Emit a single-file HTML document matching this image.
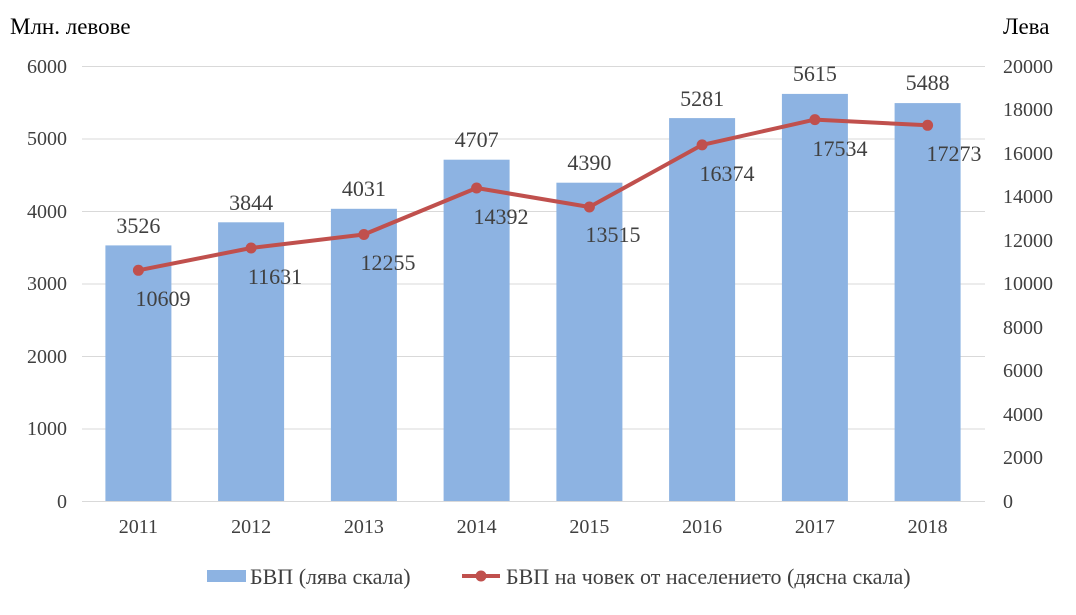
<!DOCTYPE html>
<html><head><meta charset="utf-8"><style>
body{margin:0;background:#fff}
svg text{font-family:"Liberation Serif","DejaVu Serif",serif;fill:#404040}
</style></head><body>
<svg width="1076" height="610" xmlns="http://www.w3.org/2000/svg">
<text x="10" y="34" font-size="23" style="fill:#000">Млн. левове</text>
<text x="1003" y="34" font-size="23" style="fill:#000">Лева</text>
<g stroke="#d9d9d9" stroke-width="1">
<line x1="82" x2="985" y1="66.5" y2="66.5"/><line x1="82" x2="985" y1="139" y2="139"/>
<line x1="82" x2="985" y1="211.5" y2="211.5"/><line x1="82" x2="985" y1="284" y2="284"/>
<line x1="82" x2="985" y1="356.5" y2="356.5"/><line x1="82" x2="985" y1="429" y2="429"/>
<line x1="82" x2="985" y1="501.5" y2="501.5"/>
</g>
<g font-size="20" text-anchor="end">
<text x="67" y="508">0</text><text x="67" y="435">1000</text><text x="67" y="363">2000</text>
<text x="67" y="290">3000</text><text x="67" y="218">4000</text><text x="67" y="145">5000</text><text x="67" y="73">6000</text>
</g>
<g font-size="20">
<text x="1003" y="508">0</text><text x="1003" y="464">2000</text><text x="1003" y="421">4000</text>
<text x="1003" y="377">6000</text><text x="1003" y="334">8000</text><text x="1003" y="290">10000</text>
<text x="1003" y="247">12000</text><text x="1003" y="203">14000</text><text x="1003" y="160">16000</text>
<text x="1003" y="116">18000</text><text x="1003" y="73">20000</text>
</g>
<g fill="#8db3e2">
<rect x="105.4" y="245.4" width="66" height="255.6"/><rect x="218.1" y="222.3" width="66" height="278.7"/>
<rect x="330.9" y="208.8" width="66" height="292.2"/><rect x="443.6" y="159.7" width="66" height="341.3"/>
<rect x="556.4" y="182.7" width="66" height="318.3"/><rect x="669.1" y="118.1" width="66" height="382.9"/>
<rect x="781.9" y="93.9" width="66" height="407.1"/><rect x="894.6" y="103.1" width="66" height="397.9"/>
</g>
<g font-size="22" text-anchor="middle">
<text x="138.4" y="233">3526</text><text x="251.1" y="210">3844</text><text x="363.9" y="196">4031</text>
<text x="476.6" y="147">4707</text><text x="589.4" y="170">4390</text><text x="702.1" y="106">5281</text>
<text x="814.9" y="81">5615</text><text x="927.6" y="90">5488</text>
</g>
<polyline fill="none" stroke="#c0504d" stroke-width="4" stroke-linejoin="round" points="138.4,270.3 251.1,248 363.9,234.5 476.6,188 589.4,207 702.1,144.9 814.9,119.6 927.6,125.3"/>
<g fill="#c0504d">
<circle cx="138.4" cy="270.3" r="5.5"/><circle cx="251.1" cy="248" r="5.5"/><circle cx="363.9" cy="234.5" r="5.5"/>
<circle cx="476.6" cy="188" r="5.5"/><circle cx="589.4" cy="207" r="5.5"/><circle cx="702.1" cy="144.9" r="5.5"/>
<circle cx="814.9" cy="119.6" r="5.5"/><circle cx="927.6" cy="125.3" r="5.5"/>
</g>
<g font-size="22" text-anchor="middle">
<text x="163" y="306">10609</text><text x="275" y="284">11631</text><text x="388" y="270">12255</text>
<text x="501" y="224">14392</text><text x="613" y="242">13515</text><text x="727" y="181">16374</text>
<text x="840" y="156">17534</text><text x="954" y="161">17273</text>
</g>
<g font-size="20" text-anchor="middle">
<text x="138.4" y="533">2011</text><text x="251.1" y="533">2012</text><text x="363.9" y="533">2013</text>
<text x="476.6" y="533">2014</text><text x="589.4" y="533">2015</text><text x="702.1" y="533">2016</text>
<text x="814.9" y="533">2017</text><text x="927.6" y="533">2018</text>
</g>
<rect x="207" y="570" width="39" height="12" fill="#8db3e2"/>
<text x="250" y="584" font-size="22">БВП (лява скала)</text>
<line x1="462" x2="500" y1="576" y2="576" stroke="#c0504d" stroke-width="4"/>
<circle cx="481" cy="576" r="5.5" fill="#c0504d"/>
<text x="506" y="584" font-size="22">БВП на човек от населението (дясна скала)</text>
</svg>
</body></html>
